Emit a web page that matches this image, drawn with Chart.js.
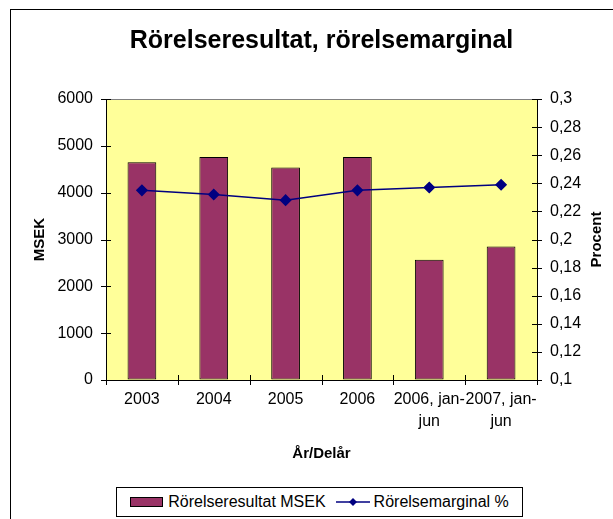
<!DOCTYPE html>
<html>
<head>
<meta charset="utf-8">
<script src="https://cdn.jsdelivr.net/npm/chart.js@4/dist/chart.umd.min.js"></script>
<style>
  html, body { margin: 0; padding: 0; background: #fff; }
  #wrap { position: relative; width: 613px; height: 519px; overflow: hidden; font-family: "Liberation Sans", Arial, sans-serif; }
  #frame { position: absolute; left: 10px; top: 9px; right: -2px; bottom: -2px; border-left: 1px solid #000; border-top: 1px solid #000; }
  #chart { position: absolute; left: 0; top: 0; }
  #legend { position: absolute; left: 116px; top: 487px; width: 405px; height: 28px; border: 1px solid #000; background: #fff;
            display: flex; align-items: center; justify-content: center; font-size: 16px; color: #000; }
  .item { display: flex; align-items: center; margin: 0 5px; }
  .swatch { width: 31px; height: 8px; border: 1px solid #000; margin-right: 5px; }
  .item svg { margin-right: 4px; }
</style>
</head>
<body>
<div id="wrap">
  <div id="frame"></div>
  <canvas id="chart" width="613" height="519"></canvas>
  <div id="legend"></div>
</div>
<script>
// ================= Data =================
const chartTitle = "Rörelseresultat, rörelsemarginal";
const categories = ["2003", "2004", "2005", "2006", ["2006, jan-", "jun"], ["2007, jan-", "jun"]];
const resultMsek = [4650, 4760, 4540, 4760, 2570, 2850];
const marginPct = [0.235, 0.232, 0.228, 0.235, 0.237, 0.239];
const leftAxisTitle = "MSEK";
const rightAxisTitle = "Procent";
const xAxisTitle = "År/Delår";
const seriesNames = ["Rörelseresultat MSEK", "Rörelsemarginal %"];

const barColor = "#993366";
const lineColor = "#000080";
const FONT = "'Liberation Sans', Arial, sans-serif";

// ================= Plugins =================
// yellow plot area, grey top edge, crossing tick marks, right axis title
const plotDecor = {
    id: "plotDecor",
    beforeDraw(chart) {
        const { ctx, chartArea: a } = chart;
        ctx.save();
        ctx.fillStyle = "#FFFF99";
        ctx.fillRect(a.left, a.top, a.right - a.left, a.bottom - a.top);
        ctx.restore();
    },
    afterDraw(chart) {
        const { ctx, chartArea: a, scales } = chart;
        ctx.save();
        ctx.strokeStyle = "#808080";
        ctx.lineWidth = 1;
        ctx.beginPath();
        ctx.moveTo(a.left, a.top + 0.5);
        ctx.lineTo(a.right, a.top + 0.5);
        ctx.stroke();

        ctx.strokeStyle = "#000";
        ctx.beginPath();
        scales.y.ticks.forEach((t, i) => {
            const py = Math.round(scales.y.getPixelForTick(i)) + 0.5;
            ctx.moveTo(a.left - 5, py);
            ctx.lineTo(a.left + 5, py);
        });
        scales.y1.ticks.forEach((t, i) => {
            const py = Math.round(scales.y1.getPixelForTick(i)) + 0.5;
            ctx.moveTo(a.right - 5, py);
            ctx.lineTo(a.right + 5, py);
        });
        const n = categories.length;
        for (let k = 0; k <= n; k++) {
            const px = Math.round(scales.x.left + k * scales.x.width / n) + 0.5;
            ctx.moveTo(px, a.bottom - 5);
            ctx.lineTo(px, a.bottom + 5);
        }
        ctx.stroke();

        ctx.fillStyle = "#000";
        ctx.font = "bold 15px " + FONT;
        ctx.textAlign = "center";
        ctx.textBaseline = "middle";
        ctx.translate(scales.y1.right - 16, (a.top + a.bottom) / 2);
        ctx.rotate(-Math.PI / 2);
        ctx.fillText(rightAxisTitle, 0, 0);
        ctx.restore();
    }
};

// ================= Chart =================
const ctx = document.getElementById("chart").getContext("2d");
Chart.defaults.font.family = FONT;
Chart.defaults.color = "#000";

const chart = new Chart(ctx, {
    type: "bar",
    data: {
        labels: categories,
        datasets: [
            {
                type: "line",
                label: seriesNames[1],
                data: marginPct,
                yAxisID: "y1",
                borderColor: lineColor,
                backgroundColor: lineColor,
                borderWidth: 1.5,
                pointStyle: "rectRot",
                pointRadius: 5,
                pointHoverRadius: 5,
                tension: 0,
                order: 0
            },
            {
                label: seriesNames[0],
                data: resultMsek,
                yAxisID: "y",
                backgroundColor: barColor,
                borderColor: "#000",
                borderWidth: 1,
                borderSkipped: false,
                barPercentage: 0.4,
                categoryPercentage: 1,
                order: 1
            }
        ]
    },
    options: {
        responsive: false,
        animation: false,
        layout: { padding: { left: 0, right: 0, top: 0, bottom: 49 } },
        plugins: {
            legend: { display: false },
            tooltip: { enabled: false },
            title: {
                display: true,
                fullSize: false,
                text: chartTitle,
                font: { size: 25, weight: "bold" },
                padding: { top: 26, bottom: 43 }
            }
        },
        scales: {
            x: {
                grid: { display: false, drawTicks: false },
                border: { display: true, color: "#000", width: 1 },
                ticks: { font: { size: 16, lineHeight: 1.35 }, padding: 9, maxRotation: 0, autoSkip: false },
                title: { display: true, text: xAxisTitle, font: { size: 15, weight: "bold" }, padding: { top: 0, bottom: 7 } },
                afterFit(s) { s.height = 90; }
            },
            y: {
                position: "left",
                min: 0,
                max: 6000,
                ticks: { stepSize: 1000, font: { size: 16 }, padding: 13, callback: v => String(v) },
                grid: { drawOnChartArea: false, drawTicks: false },
                border: { display: true, color: "#000", width: 1 },
                title: { display: true, text: leftAxisTitle, font: { size: 15, weight: "bold" }, padding: { top: 31, bottom: 0 } },
                afterFit(s) { s.width = 106; }
            },
            y1: {
                position: "right",
                min: 0.1,
                max: 0.3,
                ticks: {
                    stepSize: 0.02,
                    font: { size: 16 },
                    padding: 13,
                    callback: v => String(Math.round(v * 100) / 100).replace(".", ",")
                },
                grid: { drawOnChartArea: false, drawTicks: false },
                border: { display: true, color: "#000", width: 1 },
                afterFit(s) { s.width = 76; }
            }
        }
    },
    plugins: [plotDecor]
});

// ================= Legend =================
const legendEl = document.getElementById("legend");
[chart.data.datasets[1], chart.data.datasets[0]].forEach(ds => {
    const item = document.createElement("span");
    item.className = "item";
    if (ds.type === "line") {
        item.innerHTML = `<svg width="34" height="12"><line x1="0" y1="6" x2="34" y2="6" stroke="${ds.borderColor}" stroke-width="1.5"/>` +
            `<polygon points="17,2 21,6 17,10 13,6" fill="${ds.borderColor}"/></svg><span>${ds.label}</span>`;
    } else {
        item.innerHTML = `<span class="swatch" style="background:${ds.backgroundColor}"></span><span>${ds.label}</span>`;
    }
    legendEl.appendChild(item);
});
</script>
</body>
</html>
